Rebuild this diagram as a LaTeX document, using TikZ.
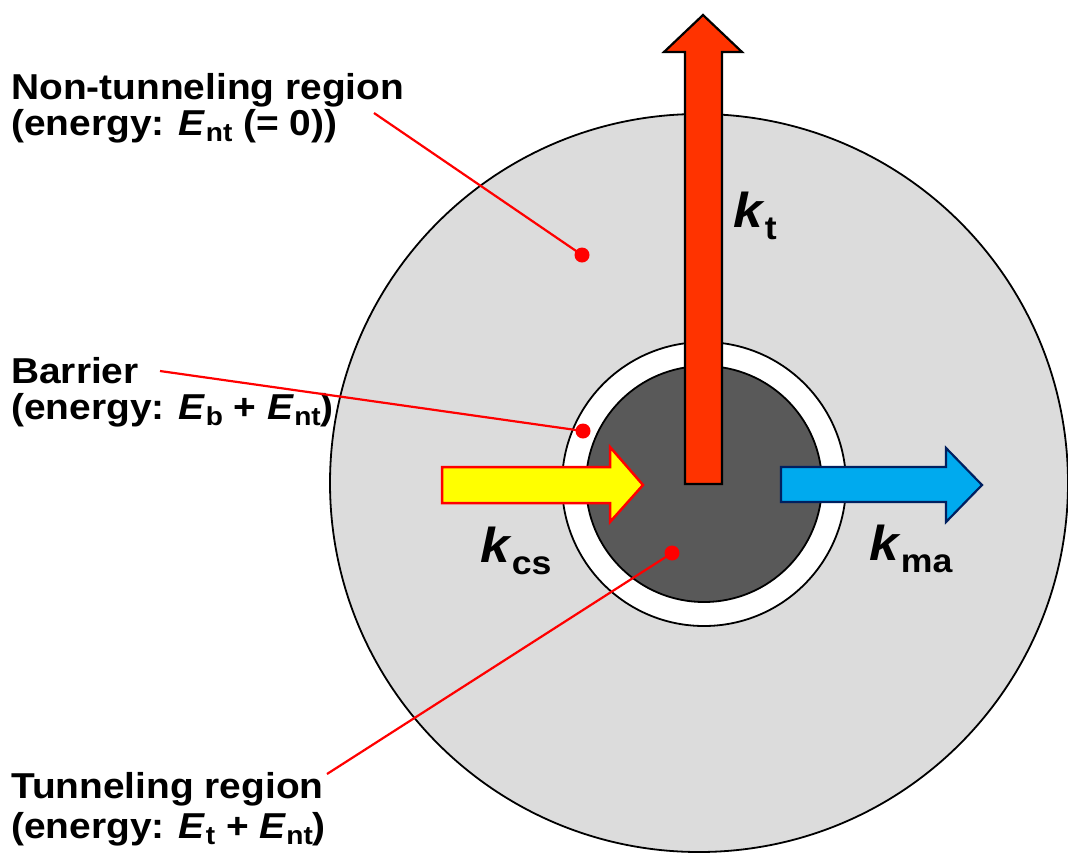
\documentclass[tikz,border=0pt]{standalone}
\usepackage{fontspec}
\setmainfont{Liberation Sans}[FakeStretch=1.08]
\definecolor{lightfill}{RGB}{220,220,220}
\definecolor{darkfill}{RGB}{89,89,89}
\definecolor{arrowred}{RGB}{255,51,0}
\definecolor{arrowyellow}{RGB}{255,255,0}
\definecolor{arrowblue}{RGB}{0,170,238}
\definecolor{navy}{RGB}{0,32,96}
\definecolor{leadred}{RGB}{255,0,0}
\newcommand\sbs[1]{\raisebox{-6pt}{\fontsize{26}{26}\selectfont #1}}
\newcommand\En[1]{\textit{E}\sbs{#1}}
\newcommand\ksub[1]{\raisebox{-12pt}{\fontsize{33}{33}\selectfont #1}}
\tikzset{
  lbl/.style={anchor=base west, inner sep=0pt, font=\fontsize{36}{40}\selectfont\bfseries},
  klbl/.style={anchor=base west, inner sep=0pt, font=\fontsize{49}{52}\selectfont\bfseries},
  dotnode/.style={circle, fill=leadred, inner sep=0pt, minimum size=15pt},
  leader/.style={draw=leadred, line width=2.2pt},
  ringline/.style={draw=black, line width=1.8pt},
}
\begin{document}
\begin{tikzpicture}[x=1pt,y=-1pt]
\useasboundingbox (0,0) rectangle (1068,855);
\fill[white] (0,0) rectangle (1068,855);
% regions
\filldraw[ringline, fill=lightfill] (699,483) circle (369);
\filldraw[ringline, fill=white] (704,484) circle (142);
\filldraw[ringline, fill=darkfill] (704,484) circle (118);
% arrows
\filldraw[draw=black, line width=2.2pt, fill=arrowred, line join=miter]
  (685,484) -- (685,52) -- (664,52) -- (703,15) -- (742,52) -- (722,52) -- (722,484) -- cycle;
\filldraw[draw=leadred, line width=2.5pt, fill=arrowyellow, line join=miter]
  (442,467) -- (610,467) -- (610,447) -- (643,485) -- (610,522) -- (610,503) -- (442,503) -- cycle;
\filldraw[draw=navy, line width=2.2pt, fill=arrowblue, line join=miter]
  (781,467) -- (946,467) -- (946,448) -- (982,485) -- (946,522) -- (946,502) -- (781,502) -- cycle;
% labels
\node[lbl] (nt1) at (11,99) {Non-tunneling region};
\node[lbl] (nt2) at (11,135) {(energy: \En{nt} (= 0))};
\node[lbl] (b1) at (11,383) {Barrier};
\node[lbl] (b2) at (11,419) {(energy: \En{b} + \En{nt})};
\node[lbl] (t1) at (11,798) {Tunneling region};
\node[lbl] (t2) at (11,838) {(energy: \En{t} + \En{nt})};
\node[klbl] (kt) at (733,227) {\textit{k}\ksub{t}};
\node[klbl] (kcs) at (480,562) {\textit{k}\ksub{cs}};
\node[klbl] (kma) at (869,560) {\textit{k}\ksub{ma}};
% leader lines
\node[dotnode] (dnt) at (582,255) {};
\node[dotnode] (db) at (583,431) {};
\node[dotnode] (dt) at (672,553) {};
\coordinate (snt) at (374,113);
\coordinate (sb) at (160,371);
\coordinate (st) at (327,774);
\draw[leader] (snt) -- (dnt.center);
\draw[leader] (sb) -- (db.center);
\draw[leader] (st) -- (dt.center);
\end{tikzpicture}
\end{document}
